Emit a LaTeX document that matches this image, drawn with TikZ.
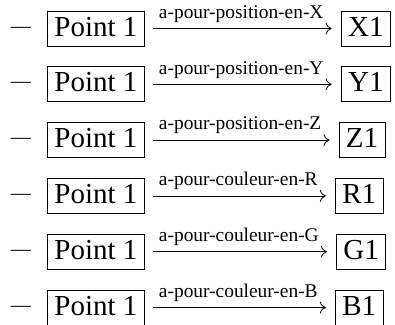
\documentclass[tikz,border=0pt]{standalone}
\usepackage{fontspec}
\setmainfont{Liberation Serif}
\usepackage{tikz}
\usetikzlibrary{positioning,arrows.meta}

\tikzset{
  boite/.style={draw,line width=0.8pt,inner xsep=7pt,inner ysep=0pt,
    text height=25pt,text depth=10pt,font=\fontsize{29}{34}\selectfont},
  tiret/.style={inner sep=0pt,anchor=base east,yshift=4pt,font=\fontsize{20}{24}\selectfont},
  relation/.style={inner sep=0pt,anchor=base west,font=\fontsize{19.4}{23}\selectfont},
  fleche/.style={line width=0.8pt,-{To[length=6pt,width=12pt]},
    shorten <=8pt,shorten >=9pt}
}

\begin{document}
\begin{tikzpicture}[x=1pt,y=-1pt]
  \useasboundingbox (0,0) rectangle (395,324);

  % position en X
  \node[boite,anchor=west] (p1) at (47,28.5) {Point 1};
  \node[tiret] (t1) at ([xshift=-16pt]p1.base west) {—};
  \node[relation] (r1) at ([shift={(14,-10.3)}]p1.east) {a-pour-position-en-X};
  \node[boite,anchor=west,xshift=17pt] (x1) at (r1.east |- p1.east) {X1};
  \draw[fleche] (p1) -- (x1);

  % position en Y
  \node[boite,anchor=west] (p2) at (47,84.3) {Point 1};
  \node[tiret] (t2) at ([xshift=-16pt]p2.base west) {—};
  \node[relation] (r2) at ([shift={(14,-10.3)}]p2.east) {a-pour-position-en-Y};
  \node[boite,anchor=west,xshift=17pt] (y1) at (r2.east |- p2.east) {Y1};
  \draw[fleche] (p2) -- (y1);

  % position en Z
  \node[boite,anchor=west] (p3) at (47,140.1) {Point 1};
  \node[tiret] (t3) at ([xshift=-16pt]p3.base west) {—};
  \node[relation] (r3) at ([shift={(14,-10.3)}]p3.east) {a-pour-position-en-Z};
  \node[boite,anchor=west,xshift=17pt] (z1) at (r3.east |- p3.east) {Z1};
  \draw[fleche] (p3) -- (z1);

  % couleur R
  \node[boite,anchor=west] (p4) at (47,195.9) {Point 1};
  \node[tiret] (t4) at ([xshift=-16pt]p4.base west) {—};
  \node[relation] (r4) at ([shift={(14,-10.3)}]p4.east) {a-pour-couleur-en-R};
  \node[boite,anchor=west,xshift=17pt] (c1) at (r4.east |- p4.east) {R1};
  \draw[fleche] (p4) -- (c1);

  % couleur G
  \node[boite,anchor=west] (p5) at (47,251.7) {Point 1};
  \node[tiret] (t5) at ([xshift=-16pt]p5.base west) {—};
  \node[relation] (r5) at ([shift={(14,-10.3)}]p5.east) {a-pour-couleur-en-G};
  \node[boite,anchor=west,xshift=17pt] (g1) at (r5.east |- p5.east) {G1};
  \draw[fleche] (p5) -- (g1);

  % couleur B
  \node[boite,anchor=west] (p6) at (47,307.5) {Point 1};
  \node[tiret] (t6) at ([xshift=-16pt]p6.base west) {—};
  \node[relation] (r6) at ([shift={(14,-10.3)}]p6.east) {a-pour-couleur-en-B};
  \node[boite,anchor=west,xshift=17pt] (b1) at (r6.east |- p6.east) {B1};
  \draw[fleche] (p6) -- (b1);
\end{tikzpicture}
\end{document}
